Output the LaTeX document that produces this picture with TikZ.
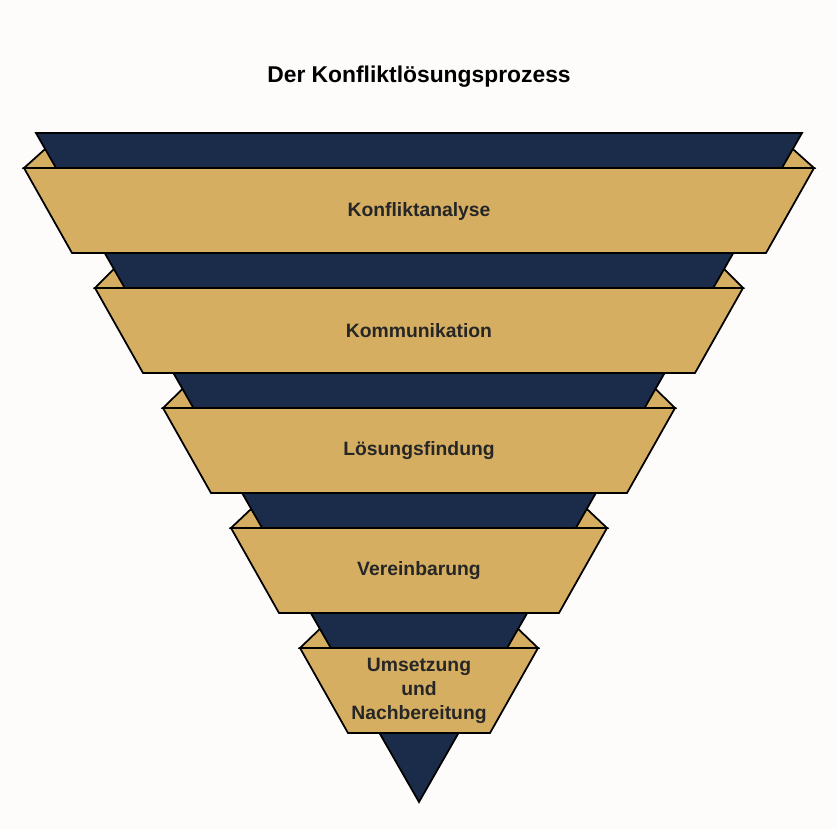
\documentclass[tikz,border=0pt]{standalone}
\usepackage{fontspec}
\setmainfont{Liberation Sans}
\definecolor{navy}{HTML}{1B2C4A}
\definecolor{sand}{HTML}{D5AE62}
\definecolor{paper}{HTML}{FDFCFB}

\begin{document}
\begin{tikzpicture}
[x=0.03cm,y=-0.03cm,line width=1.5pt,line join=miter]

  \tikzstyle{band}=[draw=black,fill=sand]
  \tikzstyle{funnel}=[draw=black,fill=navy]
  \tikzstyle{label}=[font=\bfseries\fontsize{16.5}{20.5}\selectfont,align=center,text=black!85]

  \fill[paper] (0,0) rectangle (838,829);
  \useasboundingbox (0,0) rectangle (838,829);

  \node[font=\bfseries\fontsize{19.5}{23}\selectfont] (title) at (419,77) {Der Konfliktl\"osungsprozess};

  % back pieces of the bands
  \foreach \t/\l in {168/24,288/95,408/163,528/231,648/300}
    \filldraw[band] (\l,\t) -- ({36+0.572*(\t-19-133)},\t-19)
      -- ({802-0.572*(\t-19-133)},\t-19) -- ({838-\l},\t) -- cycle;

  \filldraw[funnel] (36,133) -- (802,133) -- (419,802) -- cycle;

  % front bands
  \foreach \t/\l/\txt [count=\i] in {168/24/Konfliktanalyse,288/95/Kommunikation,
      408/163/L\"osungsfindung,528/231/Vereinbarung,648/300/{Umsetzung\\und\\Nachbereitung}}
  {
    \filldraw[band] (\l,\t) -- ({838-\l},\t) -- ({838-\l-48},\t+85) -- (\l+48,\t+85) -- cycle;
    \node[label] (step\i) at (419,\t+43) {\txt};
  }
\end{tikzpicture}
\end{document}
